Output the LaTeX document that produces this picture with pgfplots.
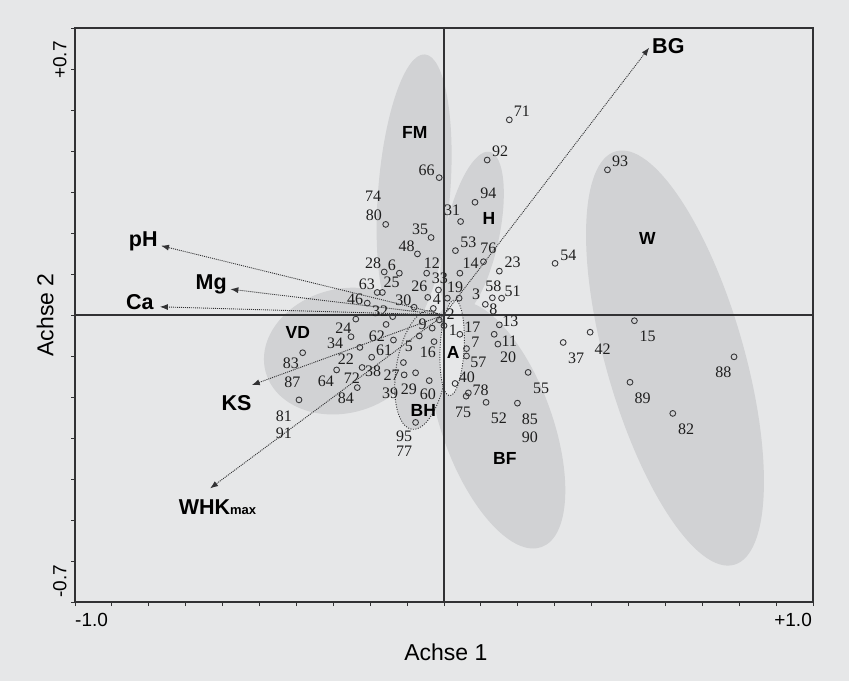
\documentclass[border=0pt]{standalone}
\usepackage{fontspec}
\setmainfont{Liberation Serif}
\setsansfont{Liberation Sans}
\usepackage{pgfplots}
\usepackage{pgfplotstable}
\pgfplotsset{compat=1.18}
\usetikzlibrary{arrows.meta}
\definecolor{bgc}{RGB}{230,231,232}
\definecolor{ellc}{RGB}{209,210,212}
\definecolor{axc}{RGB}{50,50,52}
\definecolor{ptc}{RGB}{55,55,57}
\definecolor{lbc}{RGB}{30,30,30}
\newcommand{\ptfont}{\fontsize{16bp}{17bp}\selectfont}
\newcommand{\grpfont}{\sffamily\bfseries\fontsize{17.5bp}{20bp}\selectfont}
\newcommand{\vecfont}{\sffamily\bfseries\fontsize{21.5bp}{24bp}\selectfont}
\newcommand{\tickfont}{\sffamily\fontsize{19bp}{22bp}\selectfont}
\newcommand{\labfont}{\sffamily\fontsize{23bp}{26bp}\selectfont}

% sites (ordination scores)
\pgfplotstableread{
x y
-0.158 0.221
-0.035 0.189
-0.072 0.149
-0.047 0.102
-0.162 0.105
-0.121 0.102
-0.181 0.055
-0.167 0.055
-0.015 0.061
-0.044 0.043
0.009 0.041
0.041 0.041
-0.208 0.029
-0.081 0.019
-0.029 0.016
-0.139 -0.004
-0.239 -0.010
-0.013 -0.012
0.000 -0.026
-0.032 -0.032
-0.067 -0.051
-0.027 -0.065
-0.252 -0.053
-0.157 -0.023
-0.137 -0.061
-0.228 -0.079
-0.383 -0.092
-0.393 -0.207
-0.291 -0.134
-0.222 -0.128
-0.196 -0.103
-0.235 -0.177
-0.110 -0.116
-0.108 -0.146
-0.077 -0.141
-0.040 -0.160
-0.077 -0.262
-0.013 0.335
0.045 0.228
0.177 0.476
0.117 0.378
0.084 0.275
0.031 0.157
0.107 0.130
0.043 0.102
0.150 0.107
0.301 0.126
0.112 0.026
0.131 0.042
0.156 0.041
0.043 -0.047
0.150 -0.024
0.136 -0.047
0.146 -0.071
0.061 -0.082
0.061 -0.100
0.030 -0.167
0.066 -0.190
0.060 -0.198
0.114 -0.213
0.199 -0.215
0.228 -0.140
0.323 -0.067
0.396 -0.042
0.516 -0.014
0.443 0.354
0.786 -0.102
0.504 -0.164
0.620 -0.240
}\pts

\pgfplotstableread{
x y t
-0.192 0.290 74
-0.190 0.244 80
-0.065 0.210 35
-0.101 0.168 48
-0.033 0.127 12
-0.192 0.127 28
-0.141 0.122 6
-0.209 0.076 63
-0.142 0.080 25
-0.011 0.090 33
-0.067 0.071 26
0.030 0.067 19
0.087 0.050 3
-0.241 0.039 46
-0.110 0.037 30
-0.019 0.039 4
-0.173 0.008 32
-0.273 -0.032 24
0.018 0.003 2
0.024 -0.037 1
-0.058 -0.023 9
-0.095 -0.077 5
-0.044 -0.090 16
-0.295 -0.068 34
-0.182 -0.051 62
-0.162 -0.087 61
-0.266 -0.108 22
-0.415 -0.118 83
-0.411 -0.165 87
-0.434 -0.248 81
-0.434 -0.289 91
-0.320 -0.161 64
-0.250 -0.154 72
-0.192 -0.138 38
-0.266 -0.202 84
-0.142 -0.148 27
-0.146 -0.190 39
-0.095 -0.181 29
-0.044 -0.193 60
-0.108 -0.297 95
-0.108 -0.332 77
-0.047 0.354 66
0.022 0.256 31
0.211 0.496 71
0.152 0.400 92
0.120 0.297 94
0.066 0.177 53
0.120 0.163 76
0.072 0.126 14
0.186 0.129 23
0.337 0.145 54
0.134 0.015 8
0.134 0.071 58
0.186 0.059 51
0.077 -0.030 17
0.085 -0.066 7
0.093 -0.116 57
0.180 -0.016 13
0.177 -0.063 11
0.174 -0.103 20
0.062 -0.152 40
0.099 -0.183 78
0.052 -0.238 75
0.149 -0.252 52
0.233 -0.254 85
0.233 -0.299 90
0.263 -0.179 55
0.358 -0.106 37
0.430 -0.083 42
0.552 -0.053 15
0.477 0.374 93
0.757 -0.140 88
0.538 -0.202 89
0.656 -0.279 82
}\labs

\pgfplotstableread{
x y t
-0.079 0.444 FM
0.122 0.236 H
0.551 0.187 W
-0.396 -0.042 VD
0.025 -0.091 A
-0.056 -0.232 BH
0.165 -0.349 BF
}\grps

\pgfplotsset{vec/.style={draw=axc, line width=0.9bp, dash pattern=on 1bp off 1bp, -{Latex[length=8bp,width=6bp]}, mark=none}}

\begin{document}
\begin{tikzpicture}
\path[use as bounding box, fill=bgc] (0,0) rectangle (849bp,681bp);
\begin{axis}[
  at={(75bp,79bp)}, anchor=south west,
  width=738bp, height=574bp, scale only axis,
  xmin=-1, xmax=1, ymin=-0.7, ymax=0.7,
  clip=false,
  axis line style={draw=axc, line width=1.4bp},
  tick pos=left, tick align=outside,
  major tick length=4bp,
  every tick/.style={draw=axc, line width=1bp},
  xtick={-1,-0.9,-0.8,-0.7,-0.6,-0.5,-0.4,-0.3,-0.2,-0.1,0,0.1,0.2,0.3,0.4,0.5,0.6,0.7,0.8,0.9,1},
  ytick={-0.7,-0.6,-0.5,-0.4,-0.3,-0.2,-0.1,0,0.1,0.2,0.3,0.4,0.5,0.6,0.7},
  xticklabels={}, yticklabels={},
]
% group ellipses
\fill[ellc, rotate around={15:(axis cs:-0.274,-0.088)}] (axis cs:-0.274,-0.088) ellipse [x radius=80bp, y radius=62bp];
\fill[ellc, rotate around={-4.5:(axis cs:-0.081,0.300)}] (axis cs:-0.081,0.300) ellipse [x radius=36bp, y radius=138bp];
\fill[ellc, rotate around={-12:(axis cs:0.076,0.195)}] (axis cs:0.076,0.195) ellipse [x radius=27bp, y radius=85bp];
\fill[ellc, rotate around={16:(axis cs:0.626,-0.105)}] (axis cs:0.626,-0.105) ellipse [x radius=69bp, y radius=215bp];
\fill[ellc, rotate around={20:(axis cs:0.144,-0.268)}] (axis cs:0.144,-0.268) ellipse [x radius=55bp, y radius=130bp];
\filldraw[fill=ellc, draw=axc, line width=0.9bp, dash pattern=on 1bp off 1.5bp, rotate around={-9:(axis cs:-0.062,-0.134)}] (axis cs:-0.062,-0.134) ellipse [x radius=25bp, y radius=60bp];
\filldraw[fill=bgc, draw=axc, line width=0.9bp, dash pattern=on 1bp off 1.5bp, rotate around={-3:(axis cs:0.022,-0.080)}] (axis cs:0.022,-0.080) ellipse [x radius=12bp, y radius=48bp];
% zero lines
\addplot[draw=axc, line width=1.1bp, mark=none] coordinates {(-1,0) (1,0)};
\addplot[draw=axc, line width=1.1bp, mark=none] coordinates {(0,-0.7) (0,0.7)};
% environmental vectors
\addplot[vec] coordinates {(0,0) (0.556,0.652)};
\addplot[vec] coordinates {(0,0) (-0.767,0.169)};
\addplot[vec] coordinates {(0,0) (-0.579,0.063)};
\addplot[vec] coordinates {(0,0) (-0.770,0.020)};
\addplot[vec] coordinates {(0,0) (-0.521,-0.171)};
\addplot[vec] coordinates {(0,0) (-0.634,-0.423)};
% sites
\addplot[only marks, mark=o, mark size=2.9bp, mark options={draw=ptc, line width=0.9bp}] table[x=x,y=y]{\pts};
\addplot[draw=none, mark=none, nodes near coords, point meta=explicit symbolic,
  nodes near coords style={anchor=center, inner sep=0pt, font=\ptfont, text=lbc}] table[x=x,y=y,meta=t]{\labs};
\addplot[draw=none, mark=none, nodes near coords, point meta=explicit symbolic,
  nodes near coords style={anchor=center, inner sep=0pt, font=\grpfont, text=black}] table[x=x,y=y,meta=t]{\grps};
% vector labels
\node[font=\vecfont, inner sep=0pt] at (axis cs:0.608,0.657) {BG};
\node[font=\vecfont, inner sep=0pt] at (axis cs:-0.815,0.179) {pH};
\node[font=\vecfont, inner sep=0pt] at (axis cs:-0.631,0.075) {Mg};
\node[font=\vecfont, inner sep=0pt] at (axis cs:-0.824,0.032) {Ca};
\node[font=\vecfont, inner sep=0pt] at (axis cs:-0.562,-0.215) {KS};
\node[font=\vecfont, inner sep=0pt] at (axis cs:-0.614,-0.468) {WHK{\fontsize{13bp}{14bp}\selectfont max}};
% tick labels and axis titles
\node[font=\tickfont, inner sep=0pt] at (axis cs:-0.955,-0.744) {-1.0};
\node[font=\tickfont, inner sep=0pt] at (axis cs:0.946,-0.744) {+1.0};
\node[font=\tickfont, inner sep=0pt, rotate=90] at (axis cs:-1.041,0.622) {+0.7};
\node[font=\tickfont, inner sep=0pt, rotate=90] at (axis cs:-1.041,-0.649) {-0.7};
\node[font=\labfont, inner sep=0pt] at (axis cs:0.005,-0.822) {Achse 1};
\node[font=\labfont, inner sep=0pt, rotate=90] at (axis cs:-1.081,0) {Achse 2};
\end{axis}
\end{tikzpicture}
\end{document}
